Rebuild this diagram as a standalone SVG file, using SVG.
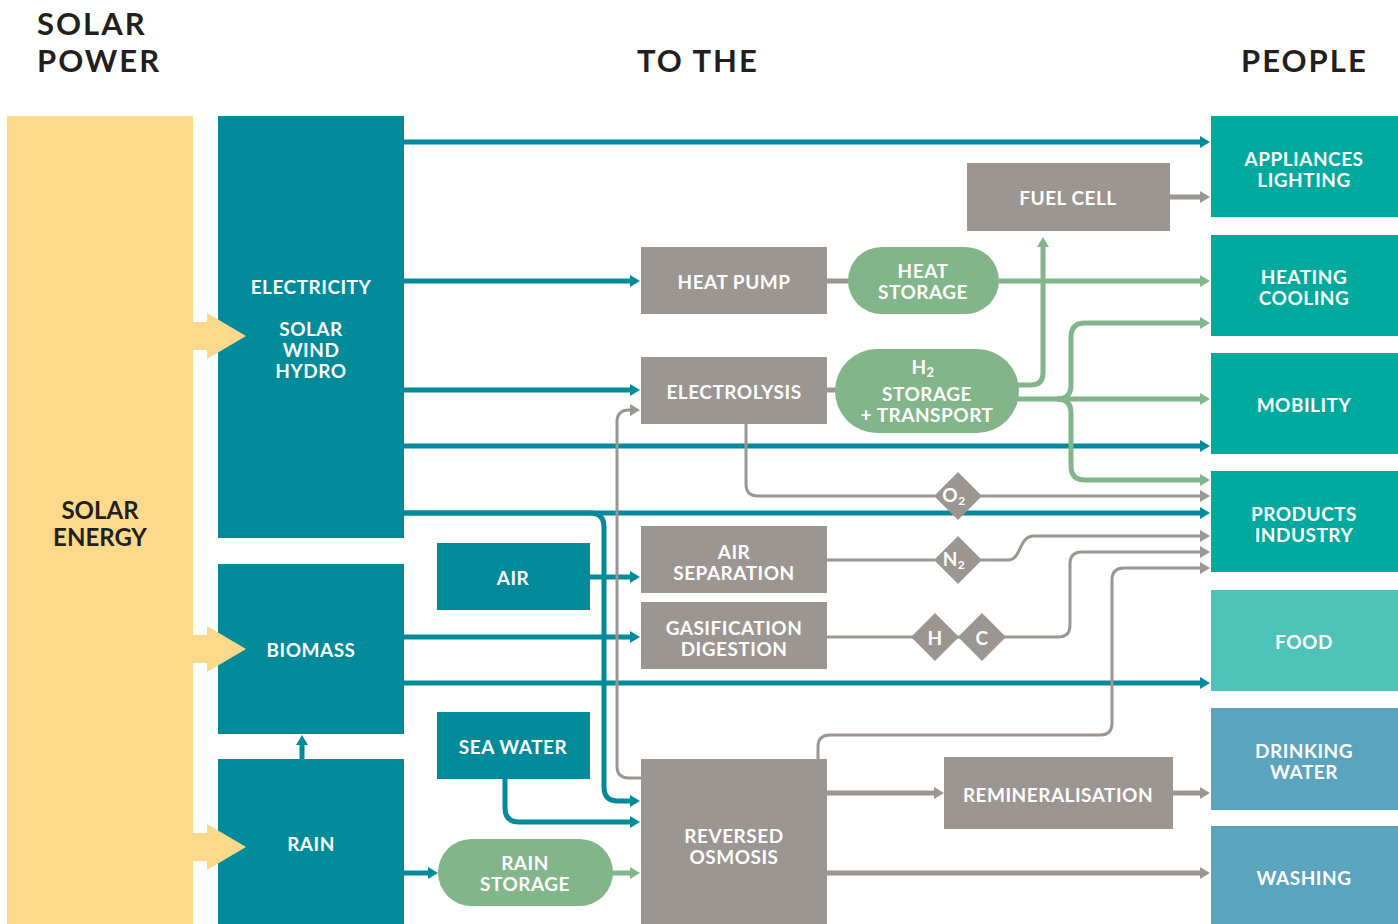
<svg xmlns="http://www.w3.org/2000/svg" width="1398" height="924" viewBox="0 0 1398 924">
<style>
  text { font-family: Lato, "Open Sans", "Liberation Sans", sans-serif; font-weight: 700; }
  .lbl { fill: #ffffff; font-size: 19px; text-anchor: middle; dominant-baseline: central; letter-spacing: 0.5px; }
  .ttl { fill: #231F20; font-size: 31px; letter-spacing: 2px; }
  .src { fill: #231F20; font-size: 24px; text-anchor: middle; dominant-baseline: central; }
  .teal { fill: #018A9A; }
  .gray { fill: #9C9693; }
  .green { fill: #83B58A; }
  .ppl { fill: #00A99D; }
  .food { fill: #4FC3B8; }
  .water { fill: #5BA4BE; }
  .sun { fill: #FDD98B; }
  .ct { fill: none; stroke: #018A9A; stroke-width: 5; }
  .cg { fill: none; stroke: #83B58A; stroke-width: 5; }
  .cy { fill: none; stroke: #9C9693; stroke-width: 5; }
  .cy3 { fill: none; stroke: #9C9693; stroke-width: 3; }
</style>
<defs>
  <marker id="at" viewBox="0 0 10 12" refX="4" refY="6" markerWidth="10" markerHeight="12" markerUnits="userSpaceOnUse" orient="auto">
    <path d="M0,0 L10,6 L0,12 z" fill="#018A9A"/>
  </marker>
  <marker id="ag" viewBox="0 0 10 12" refX="4" refY="6" markerWidth="10" markerHeight="12" markerUnits="userSpaceOnUse" orient="auto">
    <path d="M0,0 L10,6 L0,12 z" fill="#83B58A"/>
  </marker>
  <marker id="ay" viewBox="0 0 10 12" refX="4" refY="6" markerWidth="10" markerHeight="12" markerUnits="userSpaceOnUse" orient="auto">
    <path d="M0,0 L10,6 L0,12 z" fill="#9C9693"/>
  </marker>
</defs>

<rect width="1398" height="924" fill="#ffffff"/>

<!-- titles -->
<g id="titles">
  <text class="ttl" x="37" y="35">SOLAR</text>
  <text class="ttl" x="37" y="72">POWER</text>
  <text class="ttl" x="637" y="72" font-size="35" letter-spacing="1.2">TO THE</text>
  <text class="ttl" x="1241" y="72" font-size="35" letter-spacing="1">PEOPLE</text>
</g>

<!-- connectors -->
<g id="connectors">
  <!-- teal -->
  <path class="ct" d="M404,142 H1204" marker-end="url(#at)"/>
  <path class="ct" d="M404,281 H634" marker-end="url(#at)"/>
  <path class="ct" d="M404,390 H634" marker-end="url(#at)"/>
  <path class="ct" d="M404,446 H1204" marker-end="url(#at)"/>
  <path class="ct" d="M404,513 H1204" marker-end="url(#at)"/>
  <path class="ct" d="M404,513 H590 Q604,513 604,527 V787 Q604,801 618,801 H634" stroke-width="4" marker-end="url(#at)"/>
  <path class="ct" d="M590,577 H634" marker-end="url(#at)"/>
  <path class="ct" d="M404,637 H634" marker-end="url(#at)"/>
  <path class="ct" d="M404,683 H1204" marker-end="url(#at)"/>
  <path class="ct" d="M505,779 V808 Q505,822 519,822 H634" marker-end="url(#at)"/>
  <path class="ct" d="M404,873 H432" marker-end="url(#at)"/>
  <path class="ct" d="M302,759 V741" marker-end="url(#at)"/>
  <!-- green -->
  <path class="cg" d="M999,281 H1204" marker-end="url(#ag)"/>
  <path class="cg" d="M1015,385 H1031 Q1043,385 1043,373 V243" marker-end="url(#ag)"/>
  <path class="cg" d="M1015,399 H1204" marker-end="url(#ag)"/>
  <path class="cg" d="M1057,399 Q1071,399 1071,385 V337 Q1071,323 1085,323 H1204" marker-end="url(#ag)"/>
  <path class="cg" d="M1057,399 Q1071,399 1071,413 V466 Q1071,480 1085,480 H1204" marker-end="url(#ag)"/>
  <path class="cg" d="M610,873 H634" stroke-width="4" marker-end="url(#ag)"/>
  <!-- gray -->
  <path class="cy" d="M826,281 H850" stroke-width="7"/>
  <path class="cy" d="M826,390 H838" stroke-width="7"/>
  <path class="cy" d="M1170,197 H1204" marker-end="url(#ay)"/>
  <path class="cy" d="M827,793 H938" marker-end="url(#ay)"/>
  <path class="cy" d="M1173,793 H1204" marker-end="url(#ay)"/>
  <path class="cy" d="M827,873 H1204" marker-end="url(#ay)"/>
  <path class="cy3" d="M746,424 V484 Q746,496 758,496 H1204" marker-end="url(#ay)"/>
  <path class="cy3" d="M827,560 H1008 C1022,560 1018,536 1034,536 H1204" marker-end="url(#ay)"/>
  <path class="cy3" d="M827,637 H1058 Q1070,637 1070,625 V564 Q1070,552 1082,552 H1204" marker-end="url(#ay)"/>
  <path class="cy3" d="M818,759 V747 Q818,735 830,735 H1100 Q1112,735 1112,723 V580 Q1112,568 1124,568 H1204" marker-end="url(#ay)"/>
  <path class="cy3" d="M641,778 H629 Q617,778 617,766 V422 Q617,410 629,410 H634" marker-end="url(#ay)"/>
</g>

<!-- source -->
<g id="solar-energy">
  <rect class="sun" x="7" y="116" width="186" height="808"/>
  <text class="src" x="100" y="509">SOLAR</text>
  <text class="src" x="100" y="536">ENERGY</text>
</g>

<g id="electricity">
  <rect class="teal" x="218" y="116" width="186" height="422"/>
  <text class="lbl" x="311" y="286">ELECTRICITY</text>
  <text class="lbl" x="311" y="328">SOLAR</text>
  <text class="lbl" x="311" y="349">WIND</text>
  <text class="lbl" x="311" y="370">HYDRO</text>
</g>
<g id="biomass">
  <rect class="teal" x="218" y="564" width="186" height="170"/>
  <text class="lbl" x="311" y="649">BIOMASS</text>
</g>
<g id="rain">
  <rect class="teal" x="218" y="759" width="186" height="165"/>
  <text class="lbl" x="311" y="843">RAIN</text>
</g>

<g id="sun-arrows">
  <path class="sun" d="M193,322 H207 V313 L246,336 L207,359 V350 H193 z"/>
  <path class="sun" d="M193,635 H207 V626 L246,649 L207,672 V663 H193 z"/>
  <path class="sun" d="M193,833 H207 V824 L246,847 L207,870 V861 H193 z"/>
</g>

<g id="air">
  <rect class="teal" x="437" y="543" width="153" height="67"/>
  <text class="lbl" x="513" y="577">AIR</text>
</g>
<g id="sea-water">
  <rect class="teal" x="437" y="712" width="153" height="67"/>
  <text class="lbl" x="513" y="746">SEA WATER</text>
</g>
<g id="rain-storage">
  <rect class="green" x="438" y="839" width="175" height="67" rx="33.5"/>
  <text class="lbl" x="525" y="862">RAIN</text>
  <text class="lbl" x="525" y="883">STORAGE</text>
</g>

<g id="heat-pump">
  <rect class="gray" x="641" y="247" width="186" height="67"/>
  <text class="lbl" x="734" y="281">HEAT PUMP</text>
</g>
<g id="heat-storage">
  <rect class="green" x="848" y="247" width="151" height="67" rx="33.5"/>
  <text class="lbl" x="923" y="270">HEAT</text>
  <text class="lbl" x="923" y="291">STORAGE</text>
</g>
<g id="electrolysis">
  <rect class="gray" x="641" y="357" width="186" height="67"/>
  <text class="lbl" x="734" y="391">ELECTROLYSIS</text>
</g>
<g id="h2-storage">
  <rect class="green" x="835" y="349" width="184" height="84" rx="42"/>
  <text class="lbl" x="923" y="366">H<tspan font-size="13" dy="6">2</tspan></text>
  <text class="lbl" x="927" y="393">STORAGE</text>
  <text class="lbl" x="927" y="414">+ TRANSPORT</text>
</g>
<g id="fuel-cell">
  <rect class="gray" x="967" y="163" width="203" height="68"/>
  <text class="lbl" x="1068" y="197">FUEL CELL</text>
</g>
<g id="air-separation">
  <rect class="gray" x="641" y="526" width="186" height="67"/>
  <text class="lbl" x="734" y="551">AIR</text>
  <text class="lbl" x="734" y="572">SEPARATION</text>
</g>
<g id="gasification">
  <rect class="gray" x="641" y="602" width="186" height="67"/>
  <text class="lbl" x="734" y="627">GASIFICATION</text>
  <text class="lbl" x="734" y="648">DIGESTION</text>
</g>
<g id="reversed-osmosis">
  <rect class="gray" x="641" y="759" width="186" height="165"/>
  <text class="lbl" x="734" y="835">REVERSED</text>
  <text class="lbl" x="734" y="856">OSMOSIS</text>
</g>
<g id="remineralisation">
  <rect class="gray" x="944" y="757" width="229" height="72"/>
  <text class="lbl" x="1058" y="794">REMINERALISATION</text>
</g>

<g id="o2">
  <path class="gray" d="M958,472 L982,496 L958,520 L934,496 z"/>
  <text class="lbl" x="954" y="494">O<tspan font-size="12" dy="6">2</tspan></text>
</g>
<g id="n2">
  <path class="gray" d="M958,536 L982,560 L958,584 L934,560 z"/>
  <text class="lbl" x="954" y="558">N<tspan font-size="12" dy="6">2</tspan></text>
</g>
<g id="h">
  <path class="gray" d="M935,613 L959,637 L935,661 L911,637 z"/>
  <text class="lbl" x="935" y="637">H</text>
</g>
<g id="c">
  <path class="gray" d="M982,613 L1006,637 L982,661 L958,637 z"/>
  <text class="lbl" x="982" y="637">C</text>
</g>

<g id="appliances">
  <rect class="ppl" x="1211" y="116" width="187" height="101"/>
  <text class="lbl" x="1304" y="158">APPLIANCES</text>
  <text class="lbl" x="1304" y="179">LIGHTING</text>
</g>
<g id="heating">
  <rect class="ppl" x="1211" y="235" width="187" height="101"/>
  <text class="lbl" x="1304" y="276">HEATING</text>
  <text class="lbl" x="1304" y="297">COOLING</text>
</g>
<g id="mobility">
  <rect class="ppl" x="1211" y="353" width="187" height="101"/>
  <text class="lbl" x="1304" y="404">MOBILITY</text>
</g>
<g id="products">
  <rect class="ppl" x="1211" y="471" width="187" height="101"/>
  <text class="lbl" x="1304" y="513">PRODUCTS</text>
  <text class="lbl" x="1304" y="534">INDUSTRY</text>
</g>
<g id="food">
  <rect class="food" x="1211" y="590" width="187" height="101"/>
  <text class="lbl" x="1304" y="641">FOOD</text>
</g>
<g id="drinking-water">
  <rect class="water" x="1211" y="708" width="187" height="102"/>
  <text class="lbl" x="1304" y="750">DRINKING</text>
  <text class="lbl" x="1304" y="771">WATER</text>
</g>
<g id="washing">
  <rect class="water" x="1211" y="826" width="187" height="98"/>
  <text class="lbl" x="1304" y="877">WASHING</text>
</g>
</svg>
